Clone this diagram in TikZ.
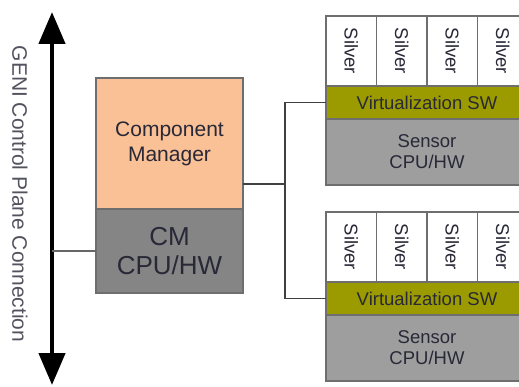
\documentclass[tikz,border=0pt]{standalone}
\usepackage{fontspec}
\setmainfont{Liberation Sans}
\usetikzlibrary{positioning,arrows.meta}
\definecolor{cmorange}{RGB}{250,192,150}
\definecolor{cmgray}{RGB}{133,133,133}
\definecolor{hwgray}{RGB}{158,158,158}
\definecolor{virtolive}{RGB}{155,155,0}
\definecolor{boxline}{RGB}{110,110,110}
\definecolor{labeltext}{RGB}{40,40,55}
\tikzset{box node/.style={rectangle,draw=boxline,line width=1.3pt,inner sep=0pt,outer sep=0pt,text=labeltext,align=center,font=\fontsize{18.5}{21}\selectfont},
  silver node/.style={box node,fill=white,minimum width=50.5pt,minimum height=70pt},
  link/.style={draw=black!75,line width=1.5pt},
  axis arrow/.style={line width=4.5pt,{Triangle[width=26pt,length=32pt]}-{Triangle[width=26pt,length=32pt]}} }

\begin{document}
\begin{tikzpicture}[x=1pt,y=-1pt]
  \clip (0,0) rectangle (519,387);

  \coordinate (top) at (52,12);
  \coordinate (bot) at (52,385);
  \draw[axis arrow] (top) -- (bot);
  \node[rotate=-90,text=labeltext!80,font=\fontsize{21}{24}\selectfont] (geni) at (20,194) {GENI Control Plane Connection};

  \node[box node,fill=cmorange,minimum width=147pt,minimum height=131pt,font=\fontsize{21}{25}\selectfont] (cm) at (169.5,143.5) {Component\\Manager};
  \node[box node,fill=cmgray,minimum width=147pt,minimum height=84pt,font=\fontsize{26}{29}\selectfont] (cmhw) [below=0pt of cm] {CM\\CPU/HW};

  \foreach \n/\y in {1/16,2/212}{
    \node[silver node,anchor=north west] (s\n c1) at (326,\y) {\rotatebox{-90}{Silver}};
    \foreach \i [count=\j from 2] in {1,2,3}
      \node[silver node] (s\n c\j) [right=0pt of s\n c\i] {\rotatebox{-90}{Silver}};
    \node[box node,fill=virtolive,minimum width=202pt,minimum height=33pt,anchor=north west] (s\n v) at (s\n c1.south west) {Virtualization SW};
    \node[box node,fill=hwgray,minimum width=202pt,minimum height=66pt] (s\n hw) [below=0pt of s\n v] {Sensor\\CPU/HW};
  }

  \coordinate (cmout) at ([yshift=25pt]cm.south east);
  \coordinate (bus) at ([xshift=42pt]cmout);
  \draw[link] (cmout) -- (bus);
  \draw[link] (s1v.west) -| (bus) |- (s2v.west);
  \draw[link,draw=black!60] (cmhw.west) -- (cmhw.west -| top);
\end{tikzpicture}
\end{document}
